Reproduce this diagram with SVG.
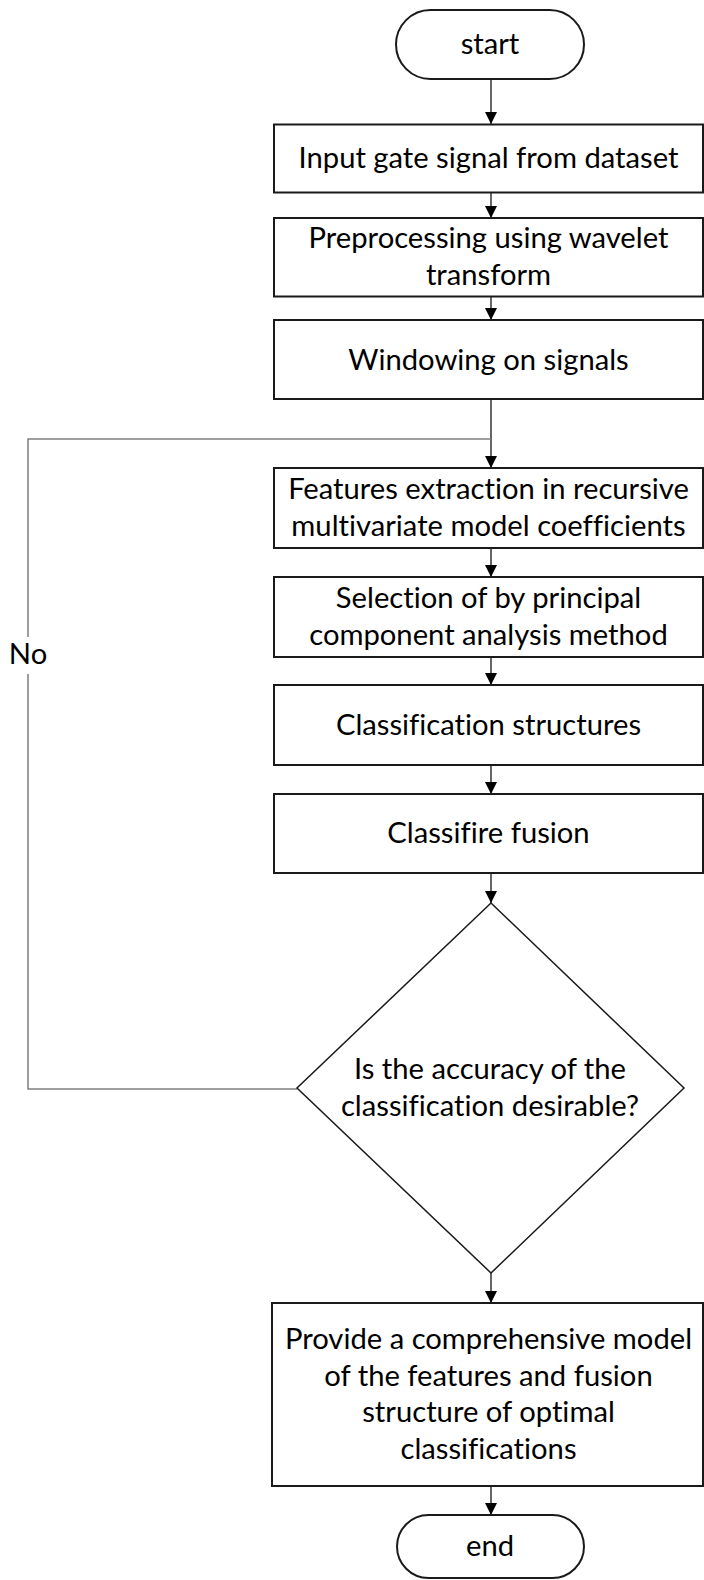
<svg xmlns="http://www.w3.org/2000/svg" width="704" height="1580" viewBox="0 0 704 1580">
<defs>
<marker id="ah" markerWidth="12" markerHeight="12" refX="12" refY="6" orient="auto" markerUnits="userSpaceOnUse">
<path d="M0,0 L12,6 L0,12 Z" fill="#000"/>
</marker>
<style>
.box{fill:#fff;stroke:#1a1a1a;stroke-width:2}
.dia{fill:#fff;stroke:#1a1a1a;stroke-width:1.5}
.t{font-family:Lato,"Liberation Sans",sans-serif;font-size:29.2px;fill:#000;text-anchor:middle;font-variant-ligatures:none}
.c{fill:none;stroke:#000;stroke-width:1.2}
.loop{fill:none;stroke:#7f7f7f;stroke-width:1.5}
</style>
</defs>
<rect width="704" height="1580" fill="#fff"/>
<g id="connectors">
<path class="c" d="M491,79 V124" marker-end="url(#ah)"/>
<path class="c" d="M491,192.5 V218" marker-end="url(#ah)"/>
<path class="c" d="M491,296.5 V320" marker-end="url(#ah)"/>
<path class="c" d="M491,399 V468" marker-end="url(#ah)"/>
<path class="c" d="M491,548 V577" marker-end="url(#ah)"/>
<path class="c" d="M491,657 V685" marker-end="url(#ah)"/>
<path class="c" d="M491,765 V794" marker-end="url(#ah)"/>
<path class="c" d="M491,873 V903" marker-end="url(#ah)"/>
<path class="c" d="M491,1273 V1303" marker-end="url(#ah)"/>
<path class="c" d="M491,1486 V1515" marker-end="url(#ah)"/>
<path class="loop" d="M297,1089 H28 V674"/>
<path class="loop" d="M28,637 V439 H491"/>
<text class="t" x="28" y="664">No</text>
</g>
<g id="start">
<rect class="box" x="396" y="10" width="188" height="69" rx="34.5"/>
<text class="t" x="490" y="54">start</text>
</g>
<g id="n1">
<rect class="box" x="274" y="124.5" width="429" height="68"/>
<text class="t" x="488.5" y="168">Input gate signal from dataset</text>
</g>
<g id="n2">
<rect class="box" x="274" y="218" width="429" height="78.5"/>
<text class="t" x="488.5" y="248">Preprocessing using wavelet</text>
<text class="t" x="488.5" y="285">transform</text>
</g>
<g id="n3">
<rect class="box" x="274" y="320" width="429" height="79"/>
<text class="t" x="488.5" y="370">Windowing on signals</text>
</g>
<g id="n4">
<rect class="box" x="274" y="468" width="429" height="80"/>
<text class="t" x="488.5" y="499">Features extraction in recursive</text>
<text class="t" x="488.5" y="536">multivariate model coefficients</text>
</g>
<g id="n5">
<rect class="box" x="274" y="577" width="429" height="80"/>
<text class="t" x="488.5" y="608">Selection of by principal</text>
<text class="t" x="488.5" y="645">component analysis method</text>
</g>
<g id="n6">
<rect class="box" x="274" y="685" width="429" height="80"/>
<text class="t" x="488.5" y="734.5">Classification structures</text>
</g>
<g id="n7">
<rect class="box" x="274" y="794" width="429" height="79"/>
<text class="t" x="488.5" y="843">Classifire fusion</text>
</g>
<g id="decision">
<polygon class="dia" points="491,903 684,1088 491,1273 297,1088"/>
<text class="t" x="490" y="1079">Is the accuracy of the</text>
<text class="t" x="490" y="1116">classification desirable?</text>
</g>
<g id="n8">
<rect class="box" x="272" y="1303" width="431" height="183"/>
<text class="t" x="488.5" y="1349">Provide a comprehensive model</text>
<text class="t" x="488.5" y="1385.5">of the features and fusion</text>
<text class="t" x="488.5" y="1422">structure of optimal</text>
<text class="t" x="488.5" y="1458.5">classifications</text>
</g>
<g id="end">
<rect class="box" x="397" y="1515" width="187" height="63" rx="31.5"/>
<text class="t" x="490" y="1556">end</text>
</g>
</svg>
